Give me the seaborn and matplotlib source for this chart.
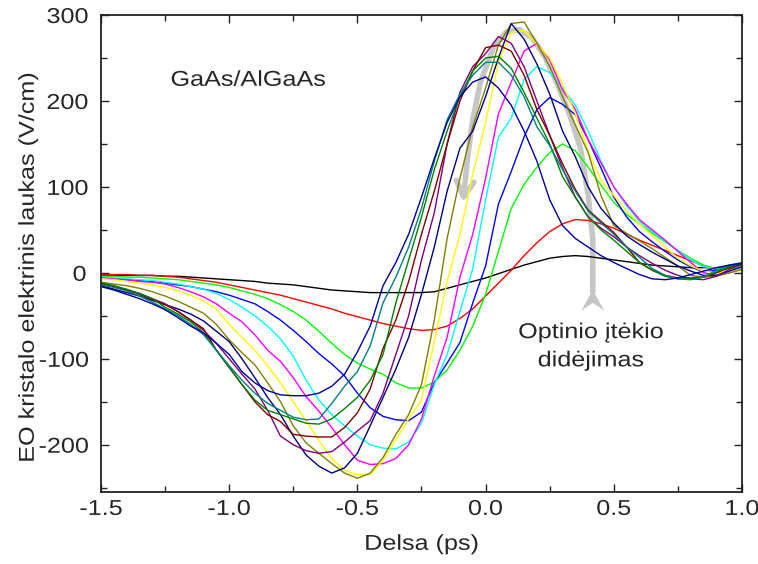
import numpy as np
import pandas as pd
import matplotlib
matplotlib.use("Agg")
import matplotlib.pyplot as plt
from matplotlib.patches import FancyArrowPatch, Polygon
from matplotlib.path import Path
from matplotlib.patheffects import AbstractPathEffect
from matplotlib.transforms import Affine2D
from matplotlib.ticker import MultipleLocator
import seaborn as sns

# Delay axis (ps)
delay = [-1.5, -1.45, -1.4, -1.35, -1.3, -1.25, -1.2, -1.15, -1.1, -1.05,
         -1.0, -0.95, -0.9, -0.85, -0.8, -0.75, -0.7, -0.65, -0.6, -0.55,
         -0.5, -0.45, -0.4, -0.35, -0.3, -0.25, -0.2, -0.15, -0.1, -0.05,
         0.0, 0.05, 0.1, 0.15, 0.2, 0.25, 0.3, 0.35, 0.4, 0.45,
         0.5, 0.55, 0.6, 0.65, 0.7, 0.75, 0.8, 0.85, 0.9, 0.95, 1.0]

# EO field traces (V/cm), one per optical fluence, lowest first
f01 = [-3, -3, -3, -3, -3, -4, -4, -5, -6, -7, -8, -9, -10, -12, -13, -14, -16, -18, -20, -21,
       -22, -23, -23, -23, -23, -23, -22, -18, -14, -10, -6, -1, 4, 9, 13, 17, 19, 20, 19, 17,
       15, 13, 11, 9, 8, 7, 6, 6, 6, 7, 8]
f02 = [-2, -2, -2, -3, -3, -4, -5, -7, -9, -11, -14, -17, -20, -23, -26, -30, -34, -38, -42, -47,
       -51, -55, -59, -62, -65, -67, -66, -62, -53, -42, -27, -12, 3, 20, 35, 48, 57, 62, 61, 57,
       52, 45, 38, 32, 26, 20, 14, 8, 4, 5, 9]
f03 = [-4, -4, -5, -5, -6, -7, -8, -10, -12, -14, -17, -21, -25, -30, -37, -45, -55, -68, -82, -95,
       -105, -112, -118, -128, -134, -134, -127, -113, -90, -62, -25, 25, 75, 103, 123, 140, 150, 142, 123, 102,
       82, 68, 57, 46, 36, 26, 17, 9, 5, 5, 6]
f04 = [-6, -7, -8, -9, -10, -12, -14, -16, -19, -22, -26, -31, -36, -45, -55, -67, -80, -94, -106, -120,
       -140, -157, -167, -171, -172, -162, -128, -105, -81, -35, 8, 80, 118, 158, 190, 204, 196, 184, 155, 122,
       88, 65, 48, 36, 25, 15, 7, 1, 3, 8, 10]
f05 = [-5, -6, -7, -8, -9, -11, -13, -16, -19, -24, -31, -40, -50, -62, -77, -97, -125, -148, -165, -178,
       -190, -200, -204, -205, -197, -175, -130, -95, -45, 5, 85, 158, 180, 225, 240, 233, 215, 195, 165, 130,
       100, 78, 60, 48, 37, 26, 15, 7, 5, 6, 7]
f06 = [-6, -7, -8, -10, -11, -13, -17, -22, -28, -36, -47, -57, -72, -90, -103, -122, -144, -161, -180, -200,
       -218, -223, -222, -216, -200, -170, -120, -75, -5, 45, 110, 185, 222, 258, 267, 248, 213, 190, 155, 128,
       100, 80, 62, 50, 38, 25, 12, 0, -3, 0, 4]
f07 = [-7, -8, -10, -12, -14, -17, -21, -26, -33, -42, -60, -75, -90, -108, -128, -150, -172, -195, -216, -230,
       -235, -235, -218, -194, -170, -148, -80, -10, 45, 115, 175, 245, 280, 282, 266, 250, 220, 185, 142, 108,
       90, 72, 57, 43, 30, 17, 8, 2, 0, 1, 3]
f08 = [-11, -13, -15, -18, -22, -27, -33, -40, -47, -60, -78, -93, -107, -128, -150, -178, -198, -210, -222, -233,
       -239, -233, -215, -188, -165, -130, -55, 40, 110, 170, 215, 265, 290, 292, 267, 240, 205, 172, 140, 90,
       55, 46, 37, 28, 18, 8, -3, -5, -4, 0, 4]
f09 = [-15, -19, -23, -27, -32, -37, -42, -48, -56, -68, -80, -100, -122, -145, -165, -190, -212, -225, -233, -227,
       -210, -178, -145, -112, -75, -25, 30, 95, 145, 165, 205, 250, 290, 272, 243, 208, 165, 135, 100, 75,
       58, 43, 33, 24, 16, 8, 2, -3, -3, 2, 7]
f10 = [-13, -16, -20, -24, -30, -36, -45, -55, -67, -82, -100, -118, -135, -160, -190, -200, -207, -210, -208, -197,
       -184, -172, -140, -95, -50, 15, 70, 150, 210, 240, 255, 275, 267, 240, 200, 160, 122, 88, 65, 52,
       42, 30, 20, 11, 3, -3, -7, -8, -4, 4, 10]
f11 = [-12, -15, -20, -25, -31, -37, -45, -55, -65, -90, -110, -130, -150, -165, -173, -188, -190, -191, -191, -180,
       -163, -135, -88, -55, -10, 45, 95, 150, 200, 235, 262, 265, 258, 230, 190, 160, 127, 97, 73, 60,
       47, 30, 12, 3, -3, -6, -6, -5, 0, 6, 11]
f12 = [-12, -15, -19, -24, -30, -40, -48, -57, -70, -90, -110, -130, -148, -160, -165, -170, -175, -176, -170, -158,
       -145, -125, -95, -35, 15, 65, 120, 165, 205, 235, 250, 252, 238, 210, 180, 150, 112, 88, 65, 50,
       38, 25, 12, 3, -4, -7, -7, -5, 1, 7, 11]
f13 = [-14, -17, -21, -27, -34, -42, -50, -60, -72, -90, -108, -125, -140, -152, -160, -168, -171, -170, -152, -132,
       -115, -85, -35, -5, 30, 75, 130, 178, 208, 230, 245, 245, 230, 205, 170, 148, 120, 95, 72, 58,
       45, 30, 18, 5, -3, -7, -8, -5, 3, 9, 12]
f14 = [-16, -20, -25, -30, -36, -43, -52, -62, -70, -82, -95, -115, -128, -137, -142, -143, -143, -140, -132, -118,
       -92, -62, -15, 12, 45, 88, 133, 175, 205, 222, 228, 215, 195, 165, 130, 85, 55, 40, 30, 20,
       12, 5, -2, -7, -8, -6, -2, 2, 6, 9, 11]

traces = [f01, f02, f03, f04, f05, f06, f07, f08, f09, f10, f11, f12, f13, f14]
trace_names = [f"F{i + 1:02d}" for i in range(len(traces))]
trace_colors = ["#000000", "#ff0000", "#00ff00", "#0000ff", "#00ffff", "#ff00ff", "#ffff00",
                "#808000", "#000080", "#800080", "#800000", "#008000", "#008080", "#0000a0"]

x_ticks = [-1.5, -1.0, -0.5, 0.0, 0.5, 1.0]
x_ticklabels = ["-1.5", "-1.0", "-0.5", "0.0", "0.5", "1.0"]
y_ticks = [-200, -100, 0, 100, 200, 300]
y_ticklabels = ["-200", "-100", "0", "100", "200", "300"]

df = pd.concat(
    [pd.DataFrame({"delay": delay, "field": tr, "trace": nm}) for nm, tr in zip(trace_names, traces)],
    ignore_index=True,
)


class Widen(AbstractPathEffect):
    """Draw text a little wider, stretched about its own centre."""

    def __init__(self, sx=1.17):
        super().__init__()
        self.sx = sx

    def draw_path(self, renderer, gc, tpath, affine, rgbFace=None):
        ext = tpath.get_extents()
        c = 0.5 * (ext.x0 + ext.x1)
        aff = Affine2D().translate(-c, 0).scale(self.sx, 1.0).translate(c, 0) + affine
        renderer.draw_path(gc, tpath, aff, rgbFace)


sns.set_style("ticks")
plt.rcParams["font.family"] = ["Liberation Sans", "DejaVu Sans"]
plt.rcParams["axes.unicode_minus"] = False

FS = 15.5
wide = [Widen(1.17)]

fig = plt.figure(figsize=(7.58, 5.64), dpi=100)
ax = fig.add_axes([0.1332, 0.1277, 0.8457, 0.8457])

GRAY = "#c6c6c6"

# Guide showing the direction of increasing fluence
guide_x = [0.418, 0.418, 0.40, 0.37, 0.33, 0.28, 0.23, 0.18, 0.13, 0.08, 0.03, -0.02, -0.05, -0.07, -0.088]
guide_y = [-22, 40, 90, 145, 182, 220, 252, 274, 283, 280, 262, 222, 178, 135, 82]
guide = FancyArrowPatch(path=Path(np.column_stack([guide_x, guide_y])),
                        arrowstyle="->,head_length=7,head_width=4",
                        mutation_scale=1.6, color=GRAY, lw=4.0,
                        transform=ax.transData, zorder=1, joinstyle="round", capstyle="round")
ax.add_patch(guide)
ax.add_patch(Polygon([[0.418, -20], [0.463, -44], [0.418, -35], [0.373, -44]],
                     closed=True, color=GRAY, zorder=1, lw=0))

sns.lineplot(data=df, x="delay", y="field", hue="trace", palette=trace_colors,
             estimator=None, sort=False, legend=False, lw=1.0, ax=ax, zorder=2)

ax.set_xlim(-1.5, 1.0)
ax.set_ylim(-255, 300)
ax.set_xticks(x_ticks)
ax.set_xticklabels(x_ticklabels)
ax.set_yticks(y_ticks)
ax.set_yticklabels(y_ticklabels)
ax.xaxis.set_minor_locator(MultipleLocator(0.25))
ax.yaxis.set_minor_locator(MultipleLocator(50))
ax.tick_params(which="both", direction="in", top=True, right=True, labelsize=FS,
               width=1.0, color="#222222")
ax.tick_params(axis="x", which="major", pad=5)
ax.tick_params(axis="y", which="major", pad=11)
ax.tick_params(which="major", length=5.5)
ax.tick_params(which="minor", length=4.5)
for lab in ax.get_xticklabels() + ax.get_yticklabels():
    lab.set_path_effects(wide)
for sp in ax.spines.values():
    sp.set_linewidth(1.3)
    sp.set_color("#222222")

ax.set_xlabel("Delsa (ps)", fontsize=FS, labelpad=10, path_effects=wide)
ax.set_ylabel("EO kristalo elektrinis laukas (V/cm)", fontsize=FS, labelpad=7, path_effects=wide)
ax.yaxis.set_label_coords(-0.097, 0.47)

ax.text(-0.926, 224, "GaAs/AlGaAs", fontsize=FS, ha="center", va="center", path_effects=wide)
ax.text(0.41, -86, "Optinio įtėkio\ndidėjimas", fontsize=FS, ha="center", va="center",
        linespacing=1.45, path_effects=wide)

fig.savefig("out.png", dpi=100)
